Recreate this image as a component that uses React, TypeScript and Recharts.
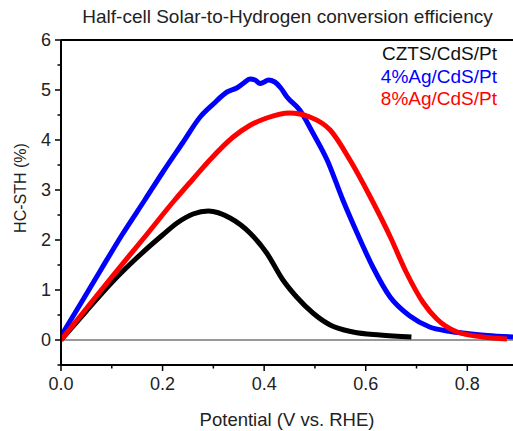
import React from "react";
import { LineChart, Line, XAxis, YAxis, ReferenceLine, Label } from "recharts";

// ---------------------------------------------------------------------------
// Data
// ---------------------------------------------------------------------------
const cztsPotential = [0, 0.05, 0.1, 0.15, 0.2, 0.23, 0.26, 0.29, 0.333, 0.372, 0.405, 0.437, 0.464, 0.496, 0.53, 0.575, 0.628, 0.69];
const cztsSth = [0, 0.58, 1.15, 1.65, 2.1, 2.35, 2.52, 2.58, 2.44, 2.14, 1.74, 1.2, 0.86, 0.54, 0.3, 0.16, 0.1, 0.06];

const ag4Potential = [0, 0.04, 0.08, 0.12, 0.165, 0.2, 0.24, 0.274, 0.3, 0.327, 0.346, 0.36, 0.372, 0.382, 0.392, 0.4, 0.408, 0.421, 0.432, 0.445, 0.47, 0.496, 0.524, 0.555, 0.583, 0.614, 0.648, 0.687, 0.726, 0.76, 0.791, 0.84, 0.89];
const ag4Sth = [0.08, 0.75, 1.43, 2.1, 2.8, 3.35, 3.95, 4.46, 4.72, 4.96, 5.04, 5.14, 5.22, 5.2, 5.13, 5.16, 5.2, 5.16, 5.05, 4.86, 4.6, 4.14, 3.6, 2.8, 2.14, 1.46, 0.86, 0.48, 0.26, 0.18, 0.14, 0.09, 0.06];

const ag8Potential = [0, 0.05, 0.1, 0.16, 0.224, 0.26, 0.293, 0.339, 0.37, 0.405, 0.45, 0.49, 0.53, 0.569, 0.608, 0.648, 0.68, 0.713, 0.74, 0.78, 0.83, 0.878];
const ag8Sth = [0, 0.63, 1.26, 2.0, 2.8, 3.22, 3.6, 4.06, 4.28, 4.44, 4.54, 4.46, 4.2, 3.6, 2.88, 2.07, 1.35, 0.75, 0.42, 0.16, 0.06, 0.02];

const xTicks = [0, 0.1, 0.2, 0.3, 0.4, 0.5, 0.6, 0.7, 0.8];
const yTicks = [-0.5, 0, 0.5, 1, 1.5, 2, 2.5, 3, 3.5, 4, 4.5, 5, 5.5, 6];
const xMajor = [0, 0.2, 0.4, 0.6, 0.8];

const series = [
  { name: "CZTS/CdS/Pt", color: "#000000", x: cztsPotential, y: cztsSth },
  { name: "4%Ag/CdS/Pt", color: "#0000ff", x: ag4Potential, y: ag4Sth },
  { name: "8%Ag/CdS/Pt", color: "#ff0000", x: ag8Potential, y: ag8Sth },
];

const FONT = '"Liberation Sans", Arial, sans-serif';

// ---------------------------------------------------------------------------
// Custom ticks
// ---------------------------------------------------------------------------
function YTick(props: any) {
  const { x, y, payload } = props;
  const v = payload.value as number;
  const major = Number.isInteger(v);
  return (
    <g>
      <line x1={x} y1={y} x2={x - (major ? 6 : 3.5)} y2={y} stroke="#000" strokeWidth={1.5} />
      {major && (
        <text x={x - 10} y={y} textAnchor="end" dominantBaseline="central" fontSize={18} fontFamily={FONT} fill="#222">
          {v}
        </text>
      )}
    </g>
  );
}

function XTick(props: any) {
  const { x, y, payload } = props;
  const v = payload.value as number;
  const major = xMajor.some((m) => Math.abs(m - v) < 1e-6);
  return (
    <g>
      <line x1={x} y1={y} x2={x} y2={y + (major ? 6 : 3.5)} stroke="#000" strokeWidth={1.5} />
      {major && (
        <text x={x} y={y + 19} textAnchor="middle" dominantBaseline="central" fontSize={18} fontFamily={FONT} fill="#222">
          {v.toFixed(1)}
        </text>
      )}
    </g>
  );
}

export default function App() {
  return (
    <div style={{ position: "absolute", left: 0, top: 0, width: 513, height: 431, background: "#fff", fontFamily: FONT }}>
      <LineChart width={513} height={431} margin={{ top: 40, right: 0, left: 0, bottom: 0 }}>
        <XAxis
          type="number"
          dataKey="x"
          domain={[0, 0.89]}
          ticks={xTicks}
          tick={<XTick />}
          tickLine={false}
          tickSize={0}
          tickMargin={0}
          height={66}
          axisLine={{ stroke: "#000", strokeWidth: 2 }}
          allowDataOverflow
        >
          <Label value="Potential (V vs. RHE)" position="insideBottom" offset={5} style={{ fontSize: 18.5, fontFamily: FONT, fill: "#222" }} />
        </XAxis>
        <YAxis
          type="number"
          domain={[-0.5, 6]}
          ticks={yTicks}
          tick={<YTick />}
          tickLine={false}
          tickSize={0}
          tickMargin={0}
          width={61}
          axisLine={{ stroke: "#000", strokeWidth: 2 }}
          allowDataOverflow
        >
          <Label
            content={() => (
              <text
                x={20}
                y={188}
                transform="rotate(-90, 20, 188)"
                textAnchor="middle"
                dominantBaseline="central"
                fontSize={16}
                fontFamily={FONT}
                fill="#222"
              >
                HC-STH (%)
              </text>
            )}
          />
        </YAxis>
        <ReferenceLine y={6} stroke="#000" strokeWidth={2} />
        <ReferenceLine y={0} stroke="#333" strokeWidth={1.2} />
        {series.map((s) => (
          <Line
            key={s.name}
            data={s.x.map((x, i) => ({ x, y: s.y[i] }))}
            dataKey="y"
            type="monotone"
            stroke={s.color}
            strokeWidth={5}
            dot={false}
            isAnimationActive={false}
          />
        ))}
      </LineChart>

      {/* title */}
      <div style={{ position: "absolute", left: 0, width: 575, top: 6, textAlign: "center", fontSize: 19, color: "#222", whiteSpace: "nowrap" }}>
        Half-cell Solar-to-Hydrogen conversion efficiency
      </div>

      {/* legend */}
      <div style={{ position: "absolute", right: 16, top: 43, textAlign: "right", fontSize: 19, lineHeight: "22.5px" }}>
        {series.map((s) => (
          <div key={s.name} style={{ color: s.color === "#000000" ? "#111" : s.color }}>
            {s.name}
          </div>
        ))}
      </div>
    </div>
  );
}
